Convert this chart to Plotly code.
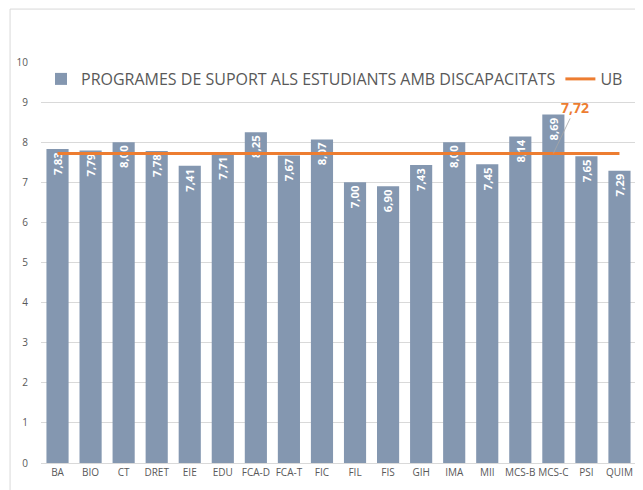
import plotly.graph_objects as go

categories = ["BA", "BIO", "CT", "DRET", "EIE", "EDU", "FCA-D", "FCA-T", "FIC", "FIL",
              "FIS", "GIH", "IMA", "MII", "MCS-B", "MCS-C", "PSI", "QUIM"]
programes = [7.83, 7.79, 8.00, 7.78, 7.41, 7.71, 8.25, 7.67, 8.07, 7.00,
             6.90, 7.43, 8.00, 7.45, 8.14, 8.69, 7.65, 7.29]
ub_value = 7.72
ub = [ub_value] * len(categories)
y_ticks = list(range(0, 11))

bar_name = "PROGRAMES DE SUPORT ALS ESTUDIANTS AMB DISCAPACITATS"
line_name = "UB"

FONT = "Open Sans"
GRAY = "#595959"

fig = go.Figure()
fig.add_trace(go.Bar(
    x=categories, y=programes, name=bar_name,
    marker=dict(color="#8497B0", line=dict(width=0)),
    text=[f"{v:.2f}".replace(".", ",") for v in programes],
    textposition="inside", insidetextanchor="end", textangle=-90,
    textfont=dict(color="white", size=12, family=FONT, weight="bold"),
    cliponaxis=False,
))
fig.add_trace(go.Scatter(
    x=categories, y=ub, name=line_name, mode="lines",
    line=dict(color="#ED7D31", width=3),
))

fig.add_annotation(
    x=categories[15], y=ub_value, xref="x", yref="y",
    text=f"<b>{ub_value:.2f}</b>".replace(".", ","),
    font=dict(color="#ED7D31", size=14, family=FONT),
    showarrow=True, arrowhead=0, arrowwidth=0.8, arrowcolor="#A6A6A6",
    ax=22, ay=-46, standoff=0,
)

# page body has an 8px margin: figure is sized/margined to compensate
fig.update_layout(
    width=635, height=482,
    margin=dict(l=33, r=7, t=54, b=27),
    paper_bgcolor="white", plot_bgcolor="white",
    font=dict(family=FONT, color=GRAY, size=10),
    bargap=0.33,
    showlegend=True,
    legend=dict(orientation="h", x=0.0, y=1.0, xanchor="left", yanchor="top",
                font=dict(size=16, color=GRAY, family=FONT),
                bgcolor="rgba(0,0,0,0)", tracegroupgap=0),
    xaxis=dict(showgrid=False, showline=True, linecolor="#D9D9D9", linewidth=1,
               ticks="", tickfont=dict(size=10, color=GRAY)),
    yaxis=dict(range=[0, 10], tickvals=y_ticks, showgrid=True, gridcolor="#D9D9D9",
               gridwidth=1, zeroline=False, showline=False, ticks="",
               tickfont=dict(size=10, color=GRAY), ticklabelstandoff=12),
    shapes=[
        dict(type="line", xref="paper", yref="paper", x0=-0.052, x1=1.05,
             y0=1.132, y1=1.132, line=dict(color="#D9D9D9", width=1)),
        dict(type="line", xref="paper", yref="paper", x0=-0.052, x1=-0.052,
             y0=1.132, y1=-0.1, line=dict(color="#D9D9D9", width=1)),
    ],
)

fig.write_html("out.html")
